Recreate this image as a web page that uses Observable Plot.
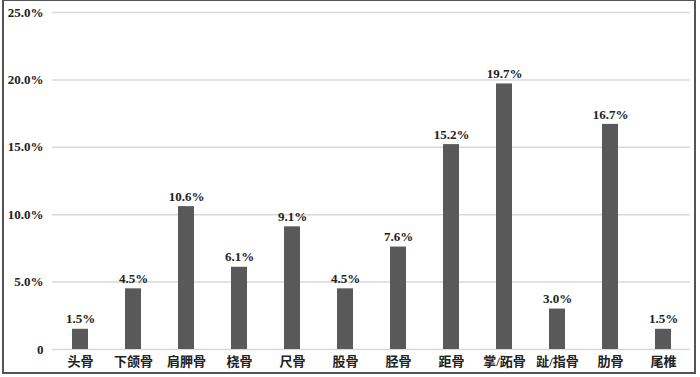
<!DOCTYPE html>
<html><head><meta charset="utf-8">
<script src="https://cdn.jsdelivr.net/npm/d3@7"></script>
<script src="https://cdn.jsdelivr.net/npm/@observablehq/plot@0.6"></script>
<style>
body{margin:0;background:#fff;}
#wrap{position:relative;width:700px;height:377px;}
#border{position:absolute;left:2px;top:0px;width:694px;height:374px;border:2px solid #555;border-top:1px solid #555;box-sizing:border-box;pointer-events:none;}
</style></head>
<body><div id="wrap"><div id="border"></div></div>
<script>
const categories = ["头骨","下颌骨","肩胛骨","桡骨","尺骨","股骨","胫骨","距骨","掌/跖骨","趾/指骨","肋骨","尾椎"];
const values = [1.5,4.5,10.6,6.1,9.1,4.5,7.6,15.2,19.7,3.0,16.7,1.5];
const yTicks = [0,5,10,15,20,25];
const data = categories.map((c,i)=>({cat:c,val:values[i]}));
const serif = "Liberation Serif, Times New Roman, DejaVu Serif, Noto Sans CJK SC, serif";
const chart = Plot.plot({
  width:700, height:377,
  marginLeft:52, marginRight:10, marginTop:12, marginBottom:28,
  style:{fontSize:"13px", fontWeight:"bold", color:"#222", background:"transparent", fontFamily:serif},
  x:{domain:categories, paddingInner:0.7, paddingOuter:0.35, label:null, tickSize:0, tickPadding:7},
  y:{domain:[0,25], ticks:yTicks, label:null, tickSize:0, tickPadding:9,
     tickFormat:d=> d===0 ? "0" : d.toFixed(1)+"%"},
  marks:[
    Plot.ruleY(yTicks,{stroke:"#d9d9d9", strokeWidth:1.5}),
    Plot.barY(data,{x:"cat", y:"val", fill:"#595959"}),
    Plot.text(data,{x:"cat", y:"val", text:d=>d.val.toFixed(1)+"%", dy:-10, fontSize:13, fontWeight:"bold", fill:"#222", fontFamily:serif})
  ]
});
chart.setAttribute("font-family", serif);
document.getElementById("wrap").prepend(chart);
</script></body></html>
